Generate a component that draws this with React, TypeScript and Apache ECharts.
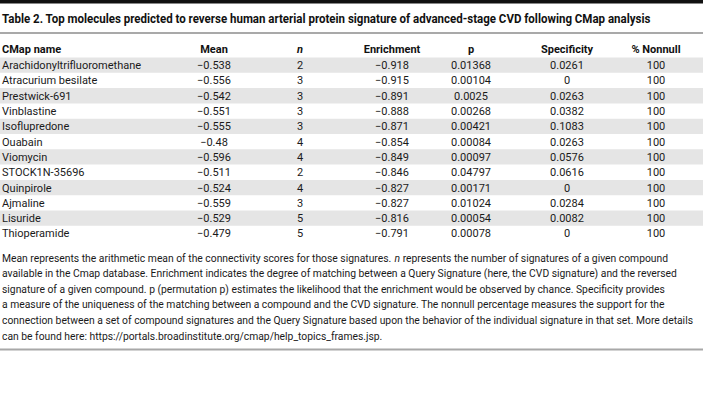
import React, { useEffect, useRef } from "react";
import * as echarts from "echarts";

const title =
  "Table 2. Top molecules predicted to reverse human arterial protein signature of advanced-stage CVD following CMap analysis";
const headers = ["CMap name", "Mean", "n", "Enrichment", "p", "Specificity", "% Nonnull"];
const names = [
  "Arachidonyltrifluoromethane",
  "Atracurium besilate",
  "Prestwick-691",
  "Vinblastine",
  "Isoflupredone",
  "Ouabain",
  "Viomycin",
  "STOCK1N-35696",
  "Quinpirole",
  "Ajmaline",
  "Lisuride",
  "Thioperamide",
];
const means = [-0.538, -0.556, -0.542, -0.551, -0.555, -0.48, -0.596, -0.511, -0.524, -0.559, -0.529, -0.479];
const ns = [2, 3, 3, 3, 3, 4, 4, 2, 4, 3, 5, 5];
const enrichments = [-0.918, -0.915, -0.891, -0.888, -0.871, -0.854, -0.849, -0.846, -0.827, -0.827, -0.816, -0.791];
const pValues = [0.01368, 0.00104, 0.0025, 0.00268, 0.00421, 0.00084, 0.00097, 0.04797, 0.00171, 0.01024, 0.00054, 0.00078];
const specificities = [0.0261, 0, 0.0263, 0.0382, 0.1083, 0.0263, 0.0576, 0.0616, 0, 0.0284, 0.0082, 0];
const nonnull = [100, 100, 100, 100, 100, 100, 100, 100, 100, 100, 100, 100];
const footnote = [
  "Mean represents the arithmetic mean of the connectivity scores for those signatures. {i|n} represents the number of signatures of a given compound",
  "available in the Cmap database. Enrichment indicates the degree of matching between a Query Signature (here, the CVD signature) and the reversed",
  "signature of a given compound. p (permutation p) estimates the likelihood that the enrichment would be observed by chance. Specificity provides",
  "a measure of the uniqueness of the matching between a compound and the CVD signature. The nonnull percentage measures the support for the",
  "connection between a set of compound signatures and the Query Signature based upon the behavior of the individual signature in that set. More details",
  "can be found here: https://portals.broadinstitute.org/cmap/help_topics_frames.jsp.",
];

const fmt = (v: number) => String(v).replace("-", "\u2212");

const FONT = "Roboto, 'Open Sans', sans-serif";

export default function App() {
  const ref = useRef<HTMLDivElement>(null);
  useEffect(() => {
    document.body.style.margin = "0";
    const chart = echarts.init(ref.current!, null, { renderer: "svg" });
    const W = 703;
    const colX = [2, 214, 300, 392, 471, 567, 656];
    const rowTop = 57.5;
    const rowH = 15.3;
    const elements: any[] = [];
    elements.push({ type: "rect", shape: { x: 0, y: 0, width: W, height: 3.5 }, style: { fill: "#111" } });
    elements.push({
      type: "text",
      x: 2,
      y: 19,
      scaleX: 0.96,
      style: { text: title, font: `bold 12px ${FONT}`, fill: "#111", textAlign: "left", textVerticalAlign: "middle" },
    });
    elements.push({ type: "rect", shape: { x: 0, y: 32.5, width: W, height: 1 }, style: { fill: "#555" } });
    headers.forEach((h, c) => {
      elements.push({
        type: "text",
        x: colX[c],
        y: 49,
        style: {
          text: h,
          font: c === 2 ? `italic bold 11px ${FONT}` : `bold 11px ${FONT}`,
          fill: "#111",
          textAlign: c === 0 ? "left" : "center",
          textVerticalAlign: "middle",
        },
      });
    });
    names.forEach((name, r) => {
      const top = rowTop + r * rowH;
      if (r % 2 === 0) {
        elements.push({ type: "rect", shape: { x: 0, y: top, width: W, height: rowH }, style: { fill: "#e5e5e5" } });
      }
      const cells = [
        name,
        fmt(means[r]),
        String(ns[r]),
        fmt(enrichments[r]),
        fmt(pValues[r]),
        fmt(specificities[r]),
        String(nonnull[r]),
      ];
      cells.forEach((t, c) => {
        elements.push({
          type: "text",
          x: colX[c],
          y: top + rowH / 2 + 0.5,
          style: {
            text: t,
            font: `11px ${FONT}`,
            fill: "#1a1a1a",
            textAlign: c === 0 ? "left" : "center",
            textVerticalAlign: "middle",
          },
        });
      });
    });
    footnote.forEach((line, i) => {
      elements.push({
        type: "text",
        x: 2,
        y: 258 + i * 15.6,
        scaleX: 0.94,
        style: {
          text: line,
          font: `11px ${FONT}`,
          fill: "#1a1a1a",
          textAlign: "left",
          textVerticalAlign: "middle",
          rich: { i: { fontStyle: "italic", fontSize: 11, fontFamily: FONT, fill: "#1a1a1a" } },
        },
      });
    });
    elements.push({ type: "rect", shape: { x: 0, y: 348.5, width: W, height: 2 }, style: { fill: "#a8a8a8" } });

    chart.setOption({ animation: false, graphic: { elements } });
    return () => chart.dispose();
  }, []);
  return <div ref={ref} style={{ width: 703, height: 405 }} />;
}
